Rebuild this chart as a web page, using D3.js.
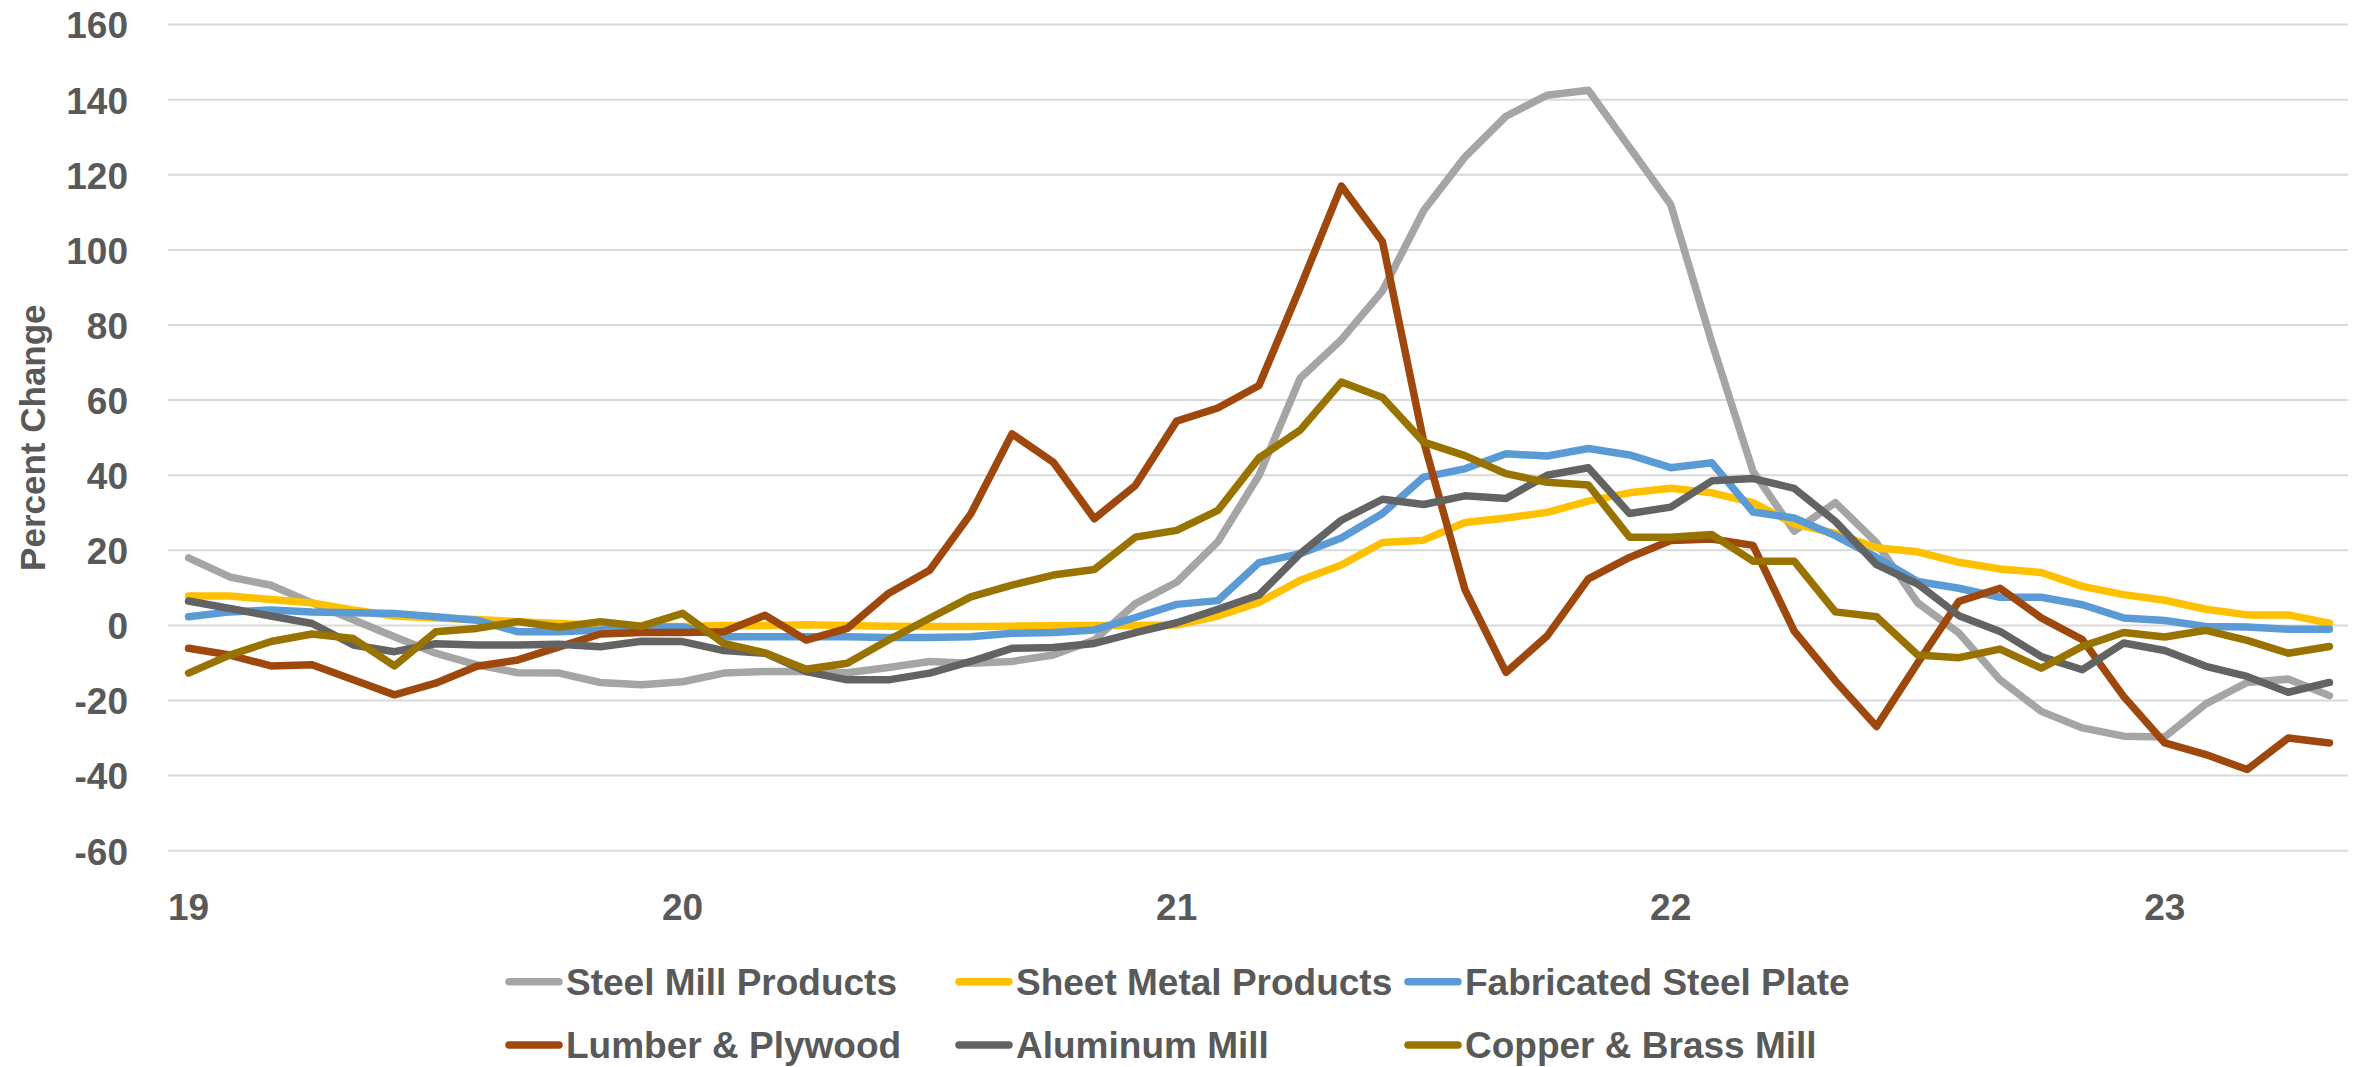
<!DOCTYPE html>
<html>
<head>
<meta charset="utf-8">
<script src="https://cdn.jsdelivr.net/npm/d3@7"></script>
<style>
  html, body { margin: 0; padding: 0; background: #ffffff; }
  svg { display: block; }
  text { font-family: "Liberation Sans", Arial, sans-serif; fill: #595959; }
</style>
</head>
<body>
<svg id="chart" width="2361" height="1067"></svg>
<script>
// ---------- DATA ----------
const categories = [
  "19-01","19-02","19-03","19-04","19-05","19-06","19-07","19-08","19-09","19-10","19-11","19-12",
  "20-01","20-02","20-03","20-04","20-05","20-06","20-07","20-08","20-09","20-10","20-11","20-12",
  "21-01","21-02","21-03","21-04","21-05","21-06","21-07","21-08","21-09","21-10","21-11","21-12",
  "22-01","22-02","22-03","22-04","22-05","22-06","22-07","22-08","22-09","22-10","22-11","22-12",
  "23-01","23-02","23-03","23-04","23-05"
];
const xTickCategories = ["19-01","20-01","21-01","22-01","23-01"];
const xTickLabels = ["19","20","21","22","23"];
const yTicks = [-60,-40,-20,0,20,40,60,80,100,120,140,160];
const yTickLabels = ["-60","-40","-20","0","20","40","60","80","100","120","140","160"];
const yTitle = "Percent Change";

const steelMill = [
  18.0,12.9,10.7,6.0,1.5,-3.0,-7.4,-10.5,-12.6,-12.7,-15.2,-15.8,
  -15.0,-12.7,-12.3,-12.3,-12.6,-11.2,-9.6,-10.1,-9.6,-7.9,-3.9,5.8,
  11.5,22.3,39.9,65.8,76.1,89.1,110.5,124.7,135.6,141.2,142.5,127.3,
  112.1,75.3,41.0,25.1,32.7,22.0,6.0,-2.0,-14.5,-22.9,-27.3,-29.5,
  -29.7,-20.9,-15.2,-14.3,-18.7
];
const sheetMetal = [
  7.8,7.8,6.9,6.0,4.1,2.5,2.0,1.6,1.0,0.5,0.0,-0.3,
  -0.3,0.0,0.0,0.2,0.0,-0.2,-0.3,-0.3,-0.2,-0.1,0.0,0.0,
  0.1,2.5,6.1,12.0,16.1,22.1,22.7,27.4,28.6,30.1,33.1,35.3,
  36.5,35.3,32.7,27.0,24.5,20.7,19.6,16.8,15.0,14.1,10.4,8.2,
  6.7,4.3,2.8,2.8,0.6
];
const fabricatedPlate = [
  2.3,3.6,4.1,3.6,3.4,3.2,2.3,1.4,-1.7,-1.7,-1.2,-0.4,
  -0.4,-3.0,-3.0,-3.0,-3.0,-3.2,-3.2,-3.0,-2.1,-1.9,-1.2,2.1,
  5.6,6.6,16.7,19.1,23.3,29.8,39.5,41.7,45.7,45.1,47.1,45.4,
  42.0,43.3,30.2,28.6,23.9,18.1,11.7,9.9,7.5,7.5,5.5,2.0,
  1.3,-0.3,-0.4,-1.0,-1.0
];
const lumberPlywood = [
  -6.1,-7.9,-10.8,-10.5,-14.5,-18.5,-15.4,-10.9,-9.2,-5.7,-2.3,-1.9,
  -1.9,-1.7,2.7,-3.9,-0.8,8.5,14.7,29.7,51.0,43.5,28.4,37.3,
  54.4,57.9,63.9,90.0,117.0,102.2,49.0,9.6,-12.5,-2.8,12.4,18.1,
  22.6,23.0,21.3,-1.5,-14.8,-26.9,-10.0,6.4,9.9,2.0,-3.8,-18.9,
  -31.3,-34.4,-38.4,-30.0,-31.3
];
const aluminumMill = [
  6.5,4.5,2.5,0.5,-5.2,-7.0,-4.9,-5.2,-5.2,-5.0,-5.7,-4.2,
  -4.3,-6.7,-7.4,-12.3,-14.5,-14.5,-12.7,-9.6,-6.1,-5.9,-4.8,-1.9,
  0.7,4.3,8.1,19.1,28.0,33.6,32.2,34.5,33.8,40.0,42.0,29.8,
  31.5,38.5,39.1,36.5,27.7,16.2,11.0,2.6,-1.6,-8.3,-11.8,-4.7,
  -6.7,-10.9,-13.6,-17.8,-15.2
];
const copperBrass = [
  -12.7,-7.9,-4.3,-2.3,-3.5,-10.8,-1.7,-0.8,1.0,-0.5,1.0,-0.2,
  3.2,-4.8,-7.3,-11.7,-10.1,-3.9,1.9,7.6,10.7,13.4,14.9,23.5,
  25.3,30.6,44.6,52.0,64.8,60.7,48.8,45.2,40.4,38.1,37.4,23.5,
  23.5,24.2,17.1,17.1,3.6,2.3,-7.9,-8.6,-6.3,-11.4,-5.6,-1.9,
  -3.1,-1.3,-4.0,-7.4,-5.6
];

const seriesNames = ["Steel Mill Products","Sheet Metal Products","Fabricated Steel Plate",
                     "Lumber & Plywood","Aluminum Mill","Copper & Brass Mill"];
const seriesValues = [steelMill, sheetMetal, fabricatedPlate, lumberPlywood, aluminumMill, copperBrass];
const seriesColors = ["#A5A5A5","#FFC000","#5B9BD5","#9E480E","#636363","#997300"];

// ---------- LAYOUT ----------
const plot = { left: 168, right: 2350, top: 24.6, bottom: 850.7 };
const svg = d3.select("#chart");

const x = d3.scaleBand().domain(categories).range([plot.left, plot.right]).padding(0);
const xc = c => x(c) + x.bandwidth() / 2;
const y = d3.scaleLinear().domain([-60, 160]).range([plot.bottom, plot.top]);

// gridlines
svg.append("g").selectAll("line").data(yTicks).join("line")
  .attr("x1", plot.left).attr("x2", plot.right - 2)
  .attr("y1", d => y(d)).attr("y2", d => y(d))
  .attr("stroke", "#D9D9D9").attr("stroke-width", 2);

// y axis labels
const yAxis = d3.axisLeft(y).tickValues(yTicks)
  .tickFormat(v => yTickLabels[yTicks.indexOf(v)])
  .tickSize(0).tickPadding(40);
const gy = svg.append("g").attr("transform", `translate(${plot.left},0)`).call(yAxis);
gy.select(".domain").remove();
gy.selectAll("text")
  .attr("dy", "0.36em")
  .style("font-family", '"Liberation Sans", Arial, sans-serif')
  .style("font-weight", "bold").style("font-size", "37px").style("fill", "#595959");

// x axis labels
const xAxis = d3.axisBottom(x).tickValues(xTickCategories)
  .tickFormat(c => xTickLabels[xTickCategories.indexOf(c)])
  .tickSize(0).tickPadding(43);
const gx = svg.append("g").attr("transform", `translate(0,${plot.bottom})`).call(xAxis);
gx.select(".domain").remove();
gx.selectAll("text")
  .style("font-family", '"Liberation Sans", Arial, sans-serif')
  .style("font-weight", "bold").style("font-size", "37px").style("fill", "#595959");

// y title
svg.append("text")
  .attr("transform", `translate(45,${(plot.top + plot.bottom) / 2}) rotate(-90)`)
  .attr("text-anchor", "middle")
  .style("font-weight", "bold").style("font-size", "35px")
  .text(yTitle);

// lines
const line = d3.line().x((d, i) => xc(categories[i])).y(d => y(d));
svg.append("g").selectAll("path").data(seriesValues).join("path")
  .attr("d", d => line(d))
  .attr("fill", "none")
  .attr("stroke", (d, i) => seriesColors[i])
  .attr("stroke-width", 7.5)
  .attr("stroke-linejoin", "round")
  .attr("stroke-linecap", "round");

// legend
const legendCols = [505, 955, 1404];
const legendRows = [981.7, 1045];
const lg = svg.append("g").selectAll("g").data(seriesNames).join("g")
  .attr("transform", (d, i) => `translate(${legendCols[i % 3]},${legendRows[Math.floor(i / 3)]})`);
lg.append("line")
  .attr("x1", 4).attr("x2", 54).attr("y1", 0).attr("y2", 0)
  .attr("stroke", (d, i) => seriesColors[i]).attr("stroke-width", 7.5)
  .attr("stroke-linecap", "round");
lg.append("text")
  .attr("x", 61).attr("y", 13.3)
  .style("font-weight", "bold").style("font-size", "37px")
  .text(d => d);
</script>
</body>
</html>
